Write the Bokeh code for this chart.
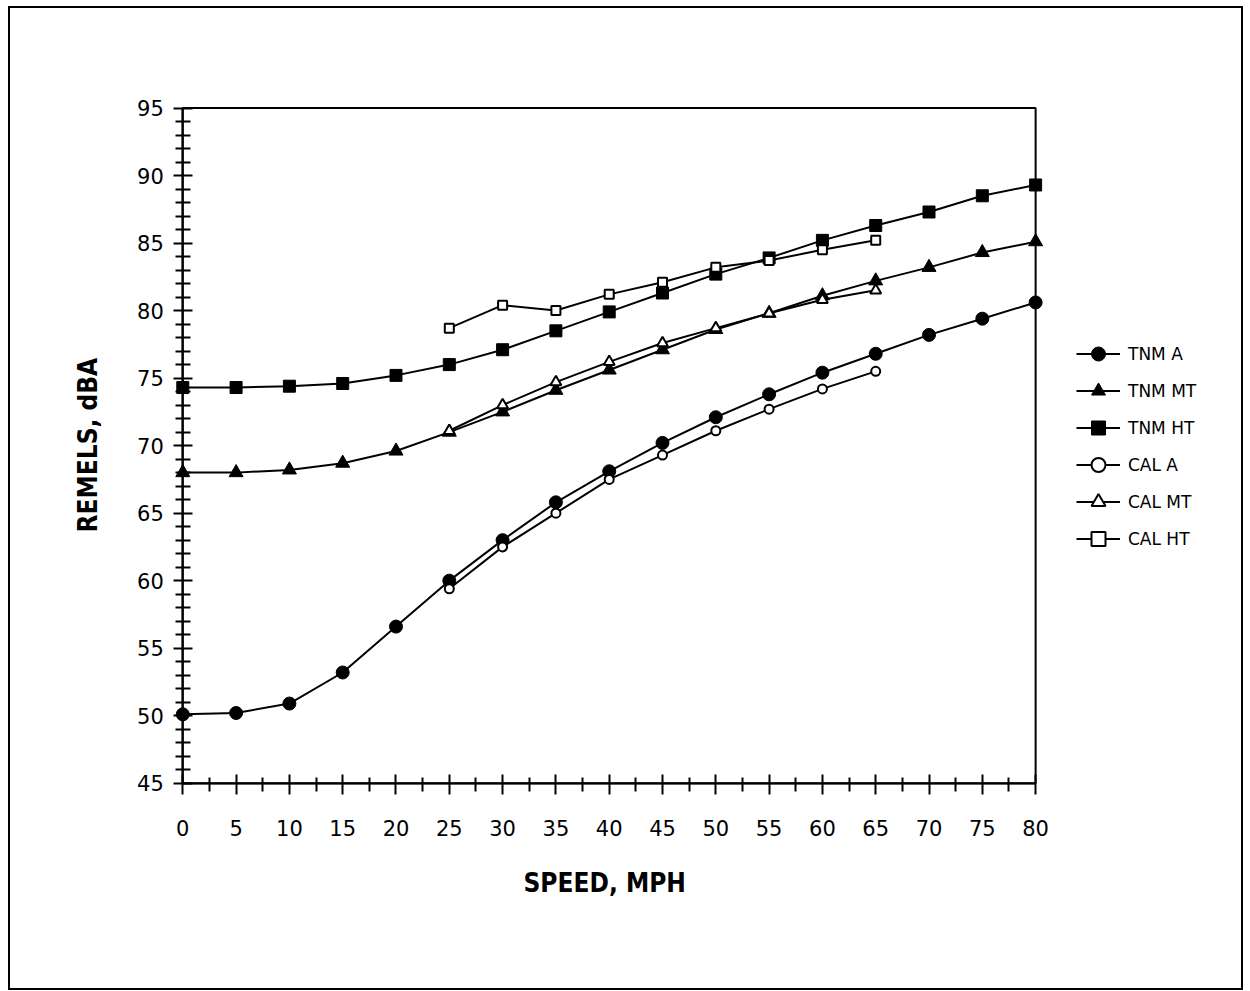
from bokeh.plotting import figure
from bokeh.models import (Legend, LegendItem, Range1d, LinearAxis, FixedTicker,
                          Title, BoxAnnotation)
from bokeh.embed import file_html
from bokeh.resources import INLINE

# ---------------- data ----------------
speed_tnm = [0, 5, 10, 15, 20, 25, 30, 35, 40, 45, 50, 55, 60, 65, 70, 75, 80]
speed_cal = [25, 30, 35, 40, 45, 50, 55, 60, 65]

tnm_a = [50.1, 50.2, 50.9, 53.2, 56.6, 60.0, 63.0, 65.8, 68.1, 70.2, 72.1, 73.8, 75.4, 76.8, 78.2, 79.4, 80.6]
tnm_mt = [68.0, 68.0, 68.2, 68.7, 69.6, 71.0, 72.5, 74.1, 75.6, 77.1, 78.6, 79.8, 81.1, 82.2, 83.2, 84.3, 85.1]
tnm_ht = [74.3, 74.3, 74.4, 74.6, 75.2, 76.0, 77.1, 78.5, 79.9, 81.3, 82.7, 83.9, 85.2, 86.3, 87.3, 88.5, 89.3]

cal_a = [59.4, 62.5, 65.0, 67.5, 69.3, 71.1, 72.7, 74.2, 75.5]
cal_mt = [71.1, 73.0, 74.7, 76.2, 77.6, 78.7, 79.8, 80.8, 81.5]
cal_ht = [78.7, 80.4, 80.0, 81.2, 82.1, 83.2, 83.7, 84.5, 85.2]

x_major_ticks = [0, 5, 10, 15, 20, 25, 30, 35, 40, 45, 50, 55, 60, 65, 70, 75, 80]
y_major_ticks = [45, 50, 55, 60, 65, 70, 75, 80, 85, 90, 95]
x_title = "SPEED, MPH"
y_title = "REMELS, dBA"

series = [
    ("TNM A", speed_tnm, tnm_a, "circle", True),
    ("TNM MT", speed_tnm, tnm_mt, "triangle", True),
    ("TNM HT", speed_tnm, tnm_ht, "square", True),
    ("CAL A", speed_cal, cal_a, "circle", False),
    ("CAL MT", speed_cal, cal_mt, "triangle", False),
    ("CAL HT", speed_cal, cal_ht, "square", False),
]

TICK_FONT = "DejaVu Sans"
TITLE_FONT = "DejaVu Sans Condensed"

X_LO, X_HI = 0, 80
Y_LO, Y_HI = 45, 95

# the frame is larger than the plot box so that the pinned axes' labels and
# the legend stay inside the drawing area
p = figure(width=1235, height=984, output_backend="svg", toolbar_location=None,
           x_range=Range1d(-6.5, 98), y_range=Range1d(39.5, 96),
           min_border_left=103, min_border_right=18,
           min_border_top=86, min_border_bottom=135,
           x_axis_location=None, y_axis_location=None)
p.styles = {"border": "2px solid black", "margin-left": "8px", "margin-top": "6px"}
p.grid.visible = False
p.outline_line_color = None
p.background_fill_color = "white"
p.border_fill_color = "white"

# axis titles in the side panels, next to the frame
ty = Title(text=y_title, align="left", offset=325, standoff=21,
           text_font=TITLE_FONT, text_font_style="bold", text_font_size="26px",
           text_color="black")
tx = Title(text=x_title, align="left", offset=410, standoff=21, vertical_align="top",
           text_font=TITLE_FONT, text_font_style="bold", text_font_size="26px",
           text_color="black")
p.add_layout(ty, "left")
p.add_layout(tx, "below")

# bottom axis pinned at y = 45
xa = LinearAxis(ticker=FixedTicker(ticks=x_major_ticks,
                                   minor_ticks=[v + 2.5 for v in x_major_ticks[:-1]]),
                bounds=(X_LO, X_HI), fixed_location=Y_LO)
# left axis pinned at x = 0
ya = LinearAxis(ticker=FixedTicker(ticks=y_major_ticks,
                                   minor_ticks=[v for v in range(45, 96) if v % 5]),
                bounds=(Y_LO, Y_HI), fixed_location=X_LO)

for ax in (xa, ya):
    ax.axis_line_color = "black"
    ax.axis_line_width = 2
    ax.major_tick_line_color = "black"
    ax.major_tick_line_width = 2
    ax.minor_tick_line_color = "black"
    ax.minor_tick_line_width = 2
    ax.major_label_text_font = TICK_FONT
    ax.major_label_text_font_size = "21px"
    ax.major_label_text_color = "black"

xa.major_tick_in = 9
xa.major_tick_out = 11
xa.minor_tick_in = 6
xa.minor_tick_out = 8
xa.major_label_standoff = 26

ya.major_tick_in = 10
ya.major_tick_out = 9
ya.minor_tick_in = 8
ya.minor_tick_out = 7
ya.major_label_standoff = 10

p.add_layout(xa, "below")
p.add_layout(ya, "left")

# plot box (top and right edges)
p.add_layout(BoxAnnotation(left=X_LO, right=X_HI, bottom=Y_LO, top=Y_HI,
                           fill_alpha=0, line_color="black", line_alpha=1,
                           line_width=2))

items = []
for name, xs, ys, marker, filled in series:
    ln = p.line(xs, ys, line_color="black", line_width=2)
    if filled:
        size = 14 if marker == "triangle" else (13 if marker == "circle" else 12)
        sc = p.scatter(xs, ys, marker=marker, size=size, fill_color="black",
                       line_color="black", line_width=1)
    else:
        size = 11 if marker == "triangle" else 9
        sc = p.scatter(xs, ys, marker=marker, size=size, fill_color="white",
                       line_color="black", line_width=2)
    items.append(LegendItem(label=name, renderers=[ln, sc]))

legend = Legend(items=items, location=(963, 301), orientation="vertical",
                glyph_width=44, glyph_height=35, spacing=2, padding=0, margin=0,
                label_standoff=8, label_text_font=TICK_FONT,
                label_text_font_size="17px", label_text_color="black",
                border_line_color=None, background_fill_alpha=0)
p.add_layout(legend, "center")

open("out.html", "w").write(file_html(p, INLINE))
